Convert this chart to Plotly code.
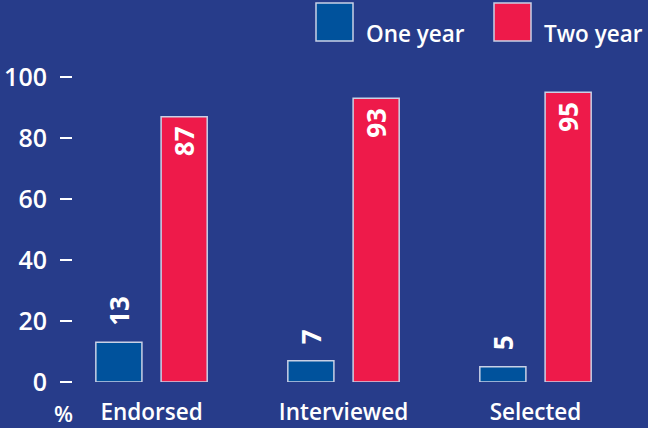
import plotly.graph_objects as go

# Data
categories = ['Endorsed', 'Interviewed', 'Selected']
one_year = [13, 7, 5]
two_year = [87, 93, 95]
y_ticks = [0, 20, 40, 60, 80, 100]

BG = '#273c8a'
BLUE = '#00529c'
RED = '#ee1a4a'
EDGE = '#c9d1e6'
FONT = 'Open Sans'
NBSP = '\u00a0'

fig = go.Figure()

fig.add_trace(go.Bar(
    x=categories, y=one_year, name='One year',
    width=0.24, offset=-0.29,
    marker=dict(color=BLUE, line=dict(color=EDGE, width=1.5)),
    text=[NBSP * 2 + str(v) for v in one_year], textposition='outside',
    textangle=-90, cliponaxis=False,
    outsidetextfont=dict(family=FONT, size=26, color='white', weight=700),
))
fig.add_trace(go.Bar(
    x=categories, y=two_year, name='Two year',
    width=0.24, offset=0.05,
    marker=dict(color=RED, line=dict(color=EDGE, width=1.5)),
    text=[str(v) + NBSP for v in two_year], textposition='inside',
    insidetextanchor='end', textangle=-90,
    insidetextfont=dict(family=FONT, size=26, color='white', weight=700),
))

fig.update_layout(
    width=648, height=428,
    paper_bgcolor=BG, plot_bgcolor=BG,
    margin=dict(l=73, r=0, t=77, b=46),
    barmode='overlay', showlegend=False,
    font=dict(family=FONT, color='white'),
    xaxis=dict(
        range=[-0.409, 2.586], showgrid=False, zeroline=False,
        showline=False, ticks='', ticklabelstandoff=14,
        tickfont=dict(family=FONT, size=22.5, color='white', weight=600),
    ),
    yaxis=dict(
        range=[0, 100], tickvals=y_ticks, showgrid=False, zeroline=False,
        showline=False, ticks='outside', ticklen=12, tickwidth=2,
        tickcolor='white', ticklabelstandoff=8,
        tickfont=dict(family=FONT, size=25, color='white', weight=600),
    ),
)

# "%" unit label under the y axis
fig.add_annotation(
    xref='paper', yref='paper', x=-0.017, y=-0.1,
    xanchor='center', yanchor='middle',
    text='%', showarrow=False,
    font=dict(family=FONT, size=22, color='white', weight=600),
)

# Legend drawn with big swatches, as in the original
legend_items = [('One year', BLUE, 316), ('Two year', RED, 494)]
for label, color, px in legend_items:
    x0 = (px - 73) / 575
    x1 = (px + 37 - 73) / 575
    fig.add_shape(
        type='rect', xref='paper', yref='paper',
        x0=x0, x1=x1, y0=(305 - 41 + 77) / 305, y1=(305 - 3 + 77) / 305,
        fillcolor=color, line=dict(color=EDGE, width=1.5),
    )
    fig.add_annotation(
        xref='paper', yref='paper', x=(px + 48 - 73) / 575,
        y=(305 - 33 + 77) / 305, xanchor='left', yanchor='middle',
        text=label, showarrow=False,
        font=dict(family=FONT, size=22.5, color='white', weight=600),
    )

# drop the default page margin so the figure sits at the window origin
fig.write_html(
    'out.html',
    config={'displayModeBar': False},
    post_script="document.body.style.margin='0';"
                "document.body.style.overflow='hidden';",
)
